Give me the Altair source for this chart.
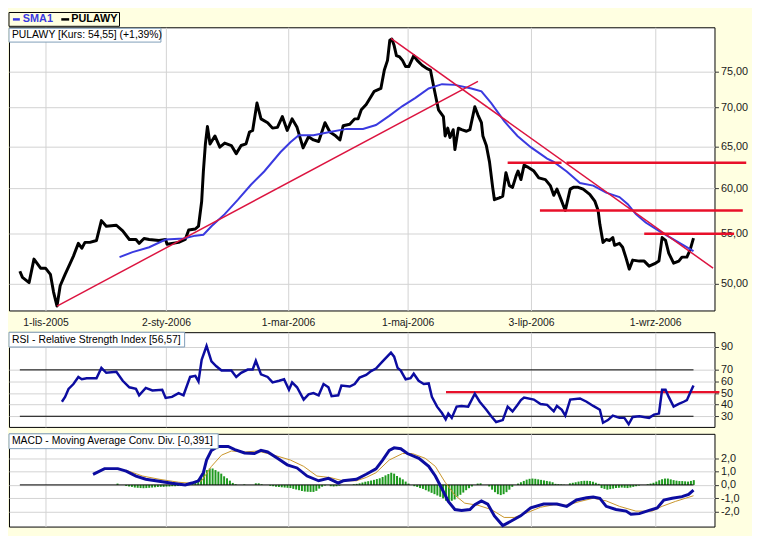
import altair as alt
import pandas as pd

FONT = "Liberation Sans"
BG = "#FFFFE1"

# x = trading-session index (0 = 1-lis-2005)
tick_sessions = [0, 41.8, 84.2, 125.7, 168.5, 211.6]
tick_labels = ["1-lis-2005", "2-sty-2006", "1-mar-2006", "1-maj-2006", "3-lip-2006", "1-wrz-2006"]

price = [(-8.9,51.2),(-8.0,50.6),(-5.7,50.1),(-4.0,52.4),(-1.7,51.5),(0,51.5),(1.7,50.9),(2.8,49.2),(4.0,47.9),(5.1,49.8),
 (6.8,50.9),(8.6,52.0),(9.7,52.7),(11.4,54.0),(12.6,53.5),(13.7,54.1),(15.4,54.1),(17.7,54.3),(19.4,56.4),(21.1,55.8),
 (24.6,55.9),(26.8,55.3),(29.1,54.4),(31.4,54.4),(32.5,54.0),(34.2,54.5),(36.0,54.4),(39.4,54.3),(41.7,54.4),(42.2,53.9),
 (46.2,54.1),(48.5,54.4),(49.7,55.4),(52.0,55.5),(53.1,55.8),(54.2,58.5),(54.8,62.0),(55.5,65.3),(56.2,67.5),(57.1,65.3),
 (58.8,66.3),(60.5,64.9),(62.2,65.4),(64.5,65.1),(66.2,64.1),(67.9,65.1),(69.6,65.3),(70.8,66.8),(71.9,67.0),(73.4,70.6),
 (74.8,68.5),(77.1,68.0),(78.8,67.3),(80.5,67.4),(82.2,68.8),(83.9,67.0),(85.6,68.5),(87.3,67.4),(89.4,64.8),(91.3,66.2),
 (93.0,65.8),(94.8,65.6),(97.0,68.0),(98.7,66.8),(100.4,66.4),(102.2,65.8),(103.3,67.6),(105.6,67.8),(107.3,68.5),(108.5,68.5),
 (109.6,69.7),(111.3,70.4),(113.0,71.5),(114.1,72.2),(116.4,72.6),(117.6,75.2),(118.7,76.6),(119.5,79.6),(120.2,79.8),(121.0,78.8),
 (121.8,77.3),(122.9,77.1),(123.9,76.6),(125.0,75.7),(126.1,75.7),(127.8,77.3),(129.0,76.6),(130.7,75.9),(132.4,75.4),(133.6,75.2),
 (134.7,72.9),(135.9,70.6),(136.4,69.7),(138.1,68.8),(138.7,66.3),(139.6,67.3),(140.4,66.1),(141.5,67.1),(142.1,64.6),(143.3,67.3),
 (144.4,67.1),(146.1,66.9),(147.3,67.1),(149.0,70.1),(150.1,69.0),(151.3,68.0),(151.8,66.3),(153.0,65.1),(154.1,63.1),(155.2,60.1),
 (155.8,58.7),(157.5,58.9),(158.7,59.1),(159.8,61.8),(161.0,60.3),(162.1,60.1),(163.3,61.4),(164.0,62.0),(165.0,61.0),(166.1,62.7),
 (167.2,62.5),(169.5,62.0),(171.2,61.2),(173.5,61.0),(175.2,60.3),(176.4,59.2),(177.5,59.9),(178.7,58.9),(180.4,57.5),(182.1,59.9),
 (183.2,60.1),(184.9,60.1),(186.6,59.9),(188.9,59.3),(190.7,58.5),(191.8,57.5),(192.4,56.0),(193.5,54.1),(194.6,54.4),(195.8,54.3),
 (196.9,54.6),(197.5,53.8),(199.2,54.0),(200.3,53.6),(201.5,52.5),(202.6,51.4),(203.8,52.3),(206.1,52.2),(207.8,52.2),(209.5,51.7),
 (211.8,52.0),(212.9,52.2),(214.0,54.6),(215.2,54.3),(216.3,53.0),(218.0,52.0),(219.8,52.2),(220.9,52.6),(222.6,52.6),(223.7,53.3),
 (224.9,54.55)]

sma = [(25.7,52.6),(30.2,53.1),(36.0,53.6),(41.7,54.4),(47.9,54.5),(52.0,54.8),(54.8,54.9),(57.6,55.8),(62.2,57.1),(66.8,58.7),
 (71.3,60.4),(75.9,61.95),(81.6,64.3),(85.0,65.5),(87.9,66.4),(93.0,66.4),(98.7,66.8),(104.5,67.2),(110.2,67.2),(114.7,67.7),
 (119.3,68.9),(123.9,70.2),(128.4,71.3),(133.0,72.6),(137.6,73.2),(142.1,73.1),(147.8,72.6),(151.3,72.2),(154.7,70.6),(159.2,68.2),
 (163.8,66.3),(168.4,64.9),(174.1,63.5),(176.4,63.1),(180.9,61.95),(182.1,61.6),(185.5,60.6),(190.1,60.3),(194.6,59.5),(199.2,59.0),
 (202.1,58.2),(204.9,57.1),(208.3,56.2),(212.9,55.3),(217.5,54.5),(221.5,53.8),(224.9,53.2)]

trend_lines = [("up",4.0,47.9),("up",150.1,73.6),("down",119.9,79.9),("down",231.7,51.5)]
price_levels = [("a",160.4,63.0),("a",179.1,63.0),("b",180.8,63.0),("b",243.2,63.0),
                ("c",171.6,57.5),("c",242.0,57.5),("d",207.8,55.0),("d",239.0,55.0)]

rsi = [(5.7,42.5),(6.8,46.7),(8.0,53.6),(9.7,57.8),(11.4,63.9),(12.6,61.9),(14.3,62.8),(17.7,62.8),(19.4,71.7),(21.1,67.5),
 (24.6,68.3),(26.8,60.6),(29.1,55.0),(31.4,53.6),(32.5,48.1),(34.8,54.4),(37.1,52.3),(40.5,52.8),(41.7,45.8),(43.9,46.7),
 (46.2,50.0),(47.9,48.1),(50.2,63.9),(52.0,64.8),(53.1,60.0),(54.2,78.6),(55.9,90.6),(57.6,77.3),(59.3,73.1),(61.1,69.4),
 (64.5,69.4),(66.2,63.9),(67.9,67.5),(70.2,70.3),(71.9,70.3),(73.0,77.8),(74.8,66.1),(77.1,63.9),(78.8,59.2),(81.1,60.6),
 (82.8,61.9),(84.5,52.8),(85.6,59.2),(87.3,55.0),(89.6,44.4),(91.3,48.9),(93.0,50.0),(94.8,48.1),(96.5,57.8),(98.2,55.0),
 (99.3,47.3),(101.6,48.1),(102.7,56.4),(105.6,55.6),(107.3,57.8),(109.0,63.3),(111.3,65.6),(113.0,68.9),(114.7,71.1),(117.0,77.3),
 (119.9,84.8),(121.0,81.4),(122.2,71.7),(123.3,69.4),(125.0,61.9),(126.7,62.8),(127.8,66.7),(129.5,60.6),(131.3,57.8),(133.0,58.3),
 (134.1,46.7),(135.9,38.3),(137.6,32.8),(138.9,27.3),(139.8,32.3),(141.0,28.6),(142.7,38.3),(144.4,38.9),(146.7,38.3),(149.0,49.4),
 (150.7,42.5),(153.0,35.6),(154.7,30.0),(156.4,25.0),(158.7,26.7),(160.4,38.3),(162.1,34.2),(163.8,39.8),(165.0,43.9),(166.1,46.1),
 (169.5,44.4),(171.8,40.6),(174.1,39.8),(176.4,34.2),(177.5,38.9),(179.2,35.6),(180.4,30.6),(182.1,44.4),(185.5,45.3),(187.8,42.5),
 (190.1,38.9),(192.4,35.6),(193.5,24.4),(195.2,26.7),(196.9,30.6),(199.2,28.6),(200.9,28.6),(202.4,23.1),(203.8,29.4),(206.1,30.0),
 (209.5,28.6),(211.2,31.4),(212.9,32.3),(214.0,52.8),(215.2,52.8),(216.3,46.7),(218.0,38.3),(219.8,40.6),(221.5,42.5),(222.6,43.9),
 (223.7,50.0),(224.9,56.57)]
rsi_bands = [(-8.9,224.9,70),(-8.9,224.9,30)]
rsi_level = [(139.0,233.9,50.8)]

macd = [(16.5,0.80),(20.5,1.23),(25.1,1.23),(28.0,1.04),(31.4,0.67),(34.8,0.43),(39.4,0.27),(43.9,0.12),(48.5,0.0),(50.8,0.14),
 (53.1,0.31),(54.8,0.92),(55.9,1.88),(57.6,2.61),(59.9,2.90),(63.4,2.90),(65.7,2.66),(69.1,2.41),(72.5,2.37),(74.8,2.61),
 (77.1,2.49),(80.5,2.01),(83.9,1.52),(87.3,1.28),(90.8,0.67),(94.8,0.31),(98.2,0.49),(101.6,0.14),(103.3,0.31),(107.9,0.43),
 (111.3,0.80),(114.7,1.21),(117.0,1.88),(119.3,2.61),(121.0,2.80),(123.3,2.73),(125.6,2.37),(129.6,2.01),(133.0,1.40),(135.3,0.67),
 (137.6,-0.29),(139.8,-1.25),(142.1,-1.86),(144.4,-1.93),(147.3,-1.86),(149.0,-1.50),(151.3,-1.21),(153.5,-1.45),(155.8,-2.34),(158.7,-3.07),
 (161.5,-2.75),(164.9,-2.34),(168.4,-1.74),(172.9,-1.45),(177.5,-1.45),(180.9,-1.62),(184.3,-1.14),(187.8,-0.97),(190.1,-0.92),(192.4,-1.01),
 (194.6,-1.62),(198.0,-1.86),(201.5,-1.98),(203.2,-2.22),(206.1,-2.17),(209.5,-1.93),(212.3,-1.74),(214.6,-1.14),(217.5,-1.01),(220.9,-0.89),
 (223.2,-0.72),(224.9,-0.391)]
signal = [(28.0,1.11),(33.7,0.67),(39.4,0.43),(46.2,0.20),(50.8,0.12),(54.2,0.31),(57.6,1.40),(61.1,2.25),(64.5,2.56),(69.1,2.49),
 (73.6,2.56),(79.3,2.25),(85.0,1.88),(89.6,1.40),(94.2,0.67),(98.7,0.56),(103.3,0.31),(107.9,0.31),(111.3,0.56),(114.7,0.92),
 (119.3,1.88),(123.9,2.37),(127.3,2.37),(131.8,2.01),(135.3,1.40),(138.7,0.20),(142.1,-0.78),(145.5,-1.38),(150.1,-1.54),(154.7,-1.86),
 (159.2,-2.46),(162.7,-2.46),(167.2,-2.10),(171.8,-1.69),(176.4,-1.50),(180.9,-1.54),(185.5,-1.25),(190.1,-1.01),(194.6,-1.21),(199.2,-1.62),
 (204.9,-1.98),(210.6,-1.98),(214.0,-1.62),(218.6,-1.25),(224.9,-0.82)]
hist = [(25,0.1),(28,-0.08),(29,-0.12),(30,-0.15),(31,-0.2),(32,-0.22),(33,-0.24),(34,-0.25),(35,-0.24),(36,-0.22),(37,-0.2),
 (38,-0.18),(39,-0.16),(40,-0.15),(41,-0.15),(42,-0.13),(43,-0.12),(44,-0.1),(45,-0.1),(46,-0.08),(47,-0.06),(48,-0.05),
 (50,0.03),(51,0.08),(52,0.2),(53,0.4),(54,0.6),(55,0.95),(56,1.12),(57,1.24),(58,1.24),(59,1.12),(60,1.0),(61,0.85),(62,0.65),
 (63,0.5),(64,0.32),(65,0.15),(66,0.05),(69,0.04),(73,0.12),(74,0.12),(75,0.05),
 (78,-0.07),(79,-0.1),(80,-0.14),(81,-0.16),(82,-0.18),(83,-0.2),(84,-0.22),(85,-0.24),(86,-0.3),(87,-0.35),(88,-0.4),(89,-0.46),
 (90,-0.5),(91,-0.52),(92,-0.53),(93,-0.53),(94,-0.45),(95,-0.28),(96,-0.14),(97,-0.05),(99,-0.1),(100,-0.12),(101,-0.1),(102,-0.06),
 (107,0.05),(108,0.08),(109,0.12),(110,0.18),(111,0.24),(112,0.28),(113,0.33),(114,0.38),(115,0.44),(116,0.5),(117,0.6),(118,0.72),
 (119,0.82),(120,0.92),(121,0.85),(122,0.68),(123,0.55),(124,0.42),(125,0.25),(126,0.1),
 (128,-0.1),(129,-0.16),(130,-0.24),(131,-0.3),(132,-0.4),(133,-0.5),(134,-0.6),(135,-0.7),(136,-0.8),(137,-0.9),(138,-1.02),
 (139,-1.2),(140,-1.26),(141,-1.2),(142,-1.1),(143,-0.88),(144,-0.75),(145,-0.58),(146,-0.4),(147,-0.25),(148,-0.12),(150,0.1),(151,0.12),
 (154,-0.12),(155,-0.36),(156,-0.55),(157,-0.7),(158,-0.77),(159,-0.7),(160,-0.55),(161,-0.36),(162,-0.15),
 (164,0.1),(165,0.2),(166,0.3),(167,0.4),(168,0.46),(169,0.48),(170,0.46),(171,0.42),(172,0.38),(173,0.34),(174,0.3),(175,0.26),
 (176,0.2),(177,0.08),(178,0.06),(179,0.04),(180,0.02),(182,0.12),(183,0.16),(184,0.2),(185,0.25),(186,0.29),(187,0.31),(188,0.31),
 (189,0.29),(190,0.24),(191,0.16),(192,0.08),(193,-0.24),(194,-0.3),(195,-0.36),(196,-0.32),(197,-0.28),(198,-0.24),(199,-0.22),
 (200,-0.2),(201,-0.22),(202,-0.24),(203,-0.2),(204,-0.15),(205,-0.1),(206,-0.05),(209,0.05),(210,0.1),(211,0.16),(212,0.25),
 (213,0.35),(214,0.43),(215,0.48),(216,0.48),(217,0.42),(218,0.36),(219,0.32),(220,0.29),(221,0.29),(222,0.27),(223,0.25),
 (224,0.3),(225,0.36)]
zero_line = [(-8.9,224.9,0.0)]

W = 715
x_scale = alt.Scale(domain=[-12.67, 232.19], nice=False, zero=False)
x_label_expr = "".join(f"datum.value == {v} ? '{l}' : " for v, l in zip(tick_sessions, tick_labels)) + "''"


def x_enc(field, labels):
    return alt.X(f"{field}:Q", scale=x_scale,
                 axis=alt.Axis(values=tick_sessions, grid=True, ticks=False, domain=False, labels=labels,
                               labelExpr=x_label_expr, labelPadding=7, labelFontSize=10.5, title=None,
                               labelFlush=False, labelOverlap=False, minExtent=0))


def y_enc(domain, values, expr, log=False):
    sc = alt.Scale(type="log", domain=domain, nice=False) if log else alt.Scale(domain=domain, nice=False, zero=False)
    return alt.Y("v:Q", scale=sc,
                 axis=alt.Axis(orient="right", values=values, labelExpr=expr, grid=True, domain=False,
                               tickSize=4, labelPadding=2, labelFontSize=11, title=None, labelOverlap=False))


def box(x2, y1, y2, fill, stroke):
    return alt.Chart(pd.DataFrame({"k": [0]})).mark_rect(fill=fill, stroke=stroke, strokeWidth=1).encode(
        x=alt.value(0), x2=alt.value(x2), y=alt.value(y1), y2=alt.value(y2))


def label(txt, x, y, size=10.5, color="black", bold=False):
    return alt.Chart(pd.DataFrame({"k": [0]})).mark_text(
        text=txt, align="left", baseline="middle", font=FONT, fontSize=size, color=color,
        fontWeight="bold" if bold else "normal").encode(x=alt.value(x), y=alt.value(y))


def dash(x1, x2, y, color):
    return alt.Chart(pd.DataFrame({"k": [0]})).mark_rule(color=color, strokeWidth=2.5).encode(
        x=alt.value(x1), x2=alt.value(x2), y=alt.value(y))


# ---------- price panel ----------
y_price = y_enc([47.5, 81.6], [50, 55, 60, 65, 70, 75], "replace(format(datum.value, '.2f'), '.', ',')", log=True)
price_df = pd.DataFrame(price, columns=["d", "v"])
sma_df = pd.DataFrame(sma, columns=["d", "v"])
trend_df = pd.DataFrame(trend_lines, columns=["seg", "d", "v"])
lvl_df = pd.DataFrame(price_levels, columns=["seg", "d", "v"])

main = alt.layer(
    alt.Chart(price_df).mark_line(color="black", strokeWidth=3, strokeJoin="round").encode(x=x_enc("d", True), y=y_price),
    alt.Chart(sma_df).mark_line(color="#3A3AE0", strokeWidth=2).encode(x=x_enc("d", True), y=y_price),
    alt.Chart(trend_df).mark_line(color="#DC1440", strokeWidth=1.5, clip=False).encode(
        x=x_enc("d", True), y=y_price, detail="seg:N"),
    alt.Chart(lvl_df).mark_line(color="#E8102A", strokeWidth=2.5, clip=False).encode(
        x=x_enc("d", True), y=y_price, detail="seg:N"),
    box(154, 1, 15, "white", "#7F9DB9"),
    label("PULAWY [Kurs: 54,55] (+1,39%)", 3, 8),
    box(112, -15, -1, BG, "black"),
    dash(4, 11, -8, "#3A3AE0"),
    label("SMA1", 14, -8, size=11, color="#3A3AE0", bold=True),
    dash(53, 61, -8, "black"),
    label("PULAWY", 63, -8, size=11, color="black", bold=True),
).properties(width=W, height=287)

# ---------- RSI panel ----------
y_rsi = y_enc([20.8, 102.5], [30, 40, 50, 60, 70, 90], "format(datum.value, 'd')")
rsi_df = pd.DataFrame(rsi, columns=["d", "v"])
bands_df = pd.DataFrame(rsi_bands, columns=["d", "d2", "v"])
rlev_df = pd.DataFrame(rsi_level, columns=["d", "d2", "v"])

rsi_chart = alt.layer(
    alt.Chart(bands_df).mark_rule(color="black", strokeWidth=1).encode(x=x_enc("d", False), x2="d2:Q", y=y_rsi),
    alt.Chart(rlev_df).mark_rule(color="#E8102A", strokeWidth=2.5, clip=False).encode(x=x_enc("d", False), x2="d2:Q", y=y_rsi),
    alt.Chart(rsi_df).mark_line(color="#0C0CA0", strokeWidth=2.5).encode(x=x_enc("d", False), y=y_rsi),
    box(178, 0, 15, "white", "#7F9DB9"),
    label("RSI - Relative Strength Index [56,57]", 3, 7.5),
).properties(width=W, height=96)

# ---------- MACD panel ----------
y_macd = y_enc([-3.15, 3.86], [-2, -1, 0, 1, 2],
               "(datum.value < 0 ? '-' : '') + replace(format(abs(datum.value), '.1f'), '.', ',')")
macd_df = pd.DataFrame(macd, columns=["d", "v"])
sig_df = pd.DataFrame(signal, columns=["d", "v"])
hist_df = pd.DataFrame(hist, columns=["d", "v"])
hist_df["z"] = 0.0
zero_df = pd.DataFrame(zero_line, columns=["d", "d2", "v"])

macd_chart = alt.layer(
    alt.Chart(hist_df).mark_rule(color="#1F9A1F", strokeWidth=2).encode(x=x_enc("d", False), y=y_macd, y2="z:Q"),
    alt.Chart(zero_df).mark_rule(color="black", strokeWidth=1).encode(x=x_enc("d", False), x2="d2:Q", y=y_macd),
    alt.Chart(sig_df).mark_line(color="#C8942A", strokeWidth=1).encode(x=x_enc("d", False), y=y_macd),
    alt.Chart(macd_df).mark_line(color="#0C0CA0", strokeWidth=3).encode(x=x_enc("d", False), y=y_macd),
    box(212, 0, 15, "white", "#7F9DB9"),
    label("MACD - Moving Average Conv. Div. [-0,391]", 3, 7.5),
).properties(width=W, height=94)

chart = alt.vconcat(main, rsi_chart, macd_chart, spacing=3).properties(
    background=BG, padding=0
).configure_axis(
    gridColor="#D2D2D2", gridWidth=1, labelFont=FONT, labelColor="#1A1A1A", tickColor="#333333"
).configure_view(fill="white", stroke="black", strokeWidth=1)

chart.save("out.html", embed_options={"renderer": "svg", "actions": False})
